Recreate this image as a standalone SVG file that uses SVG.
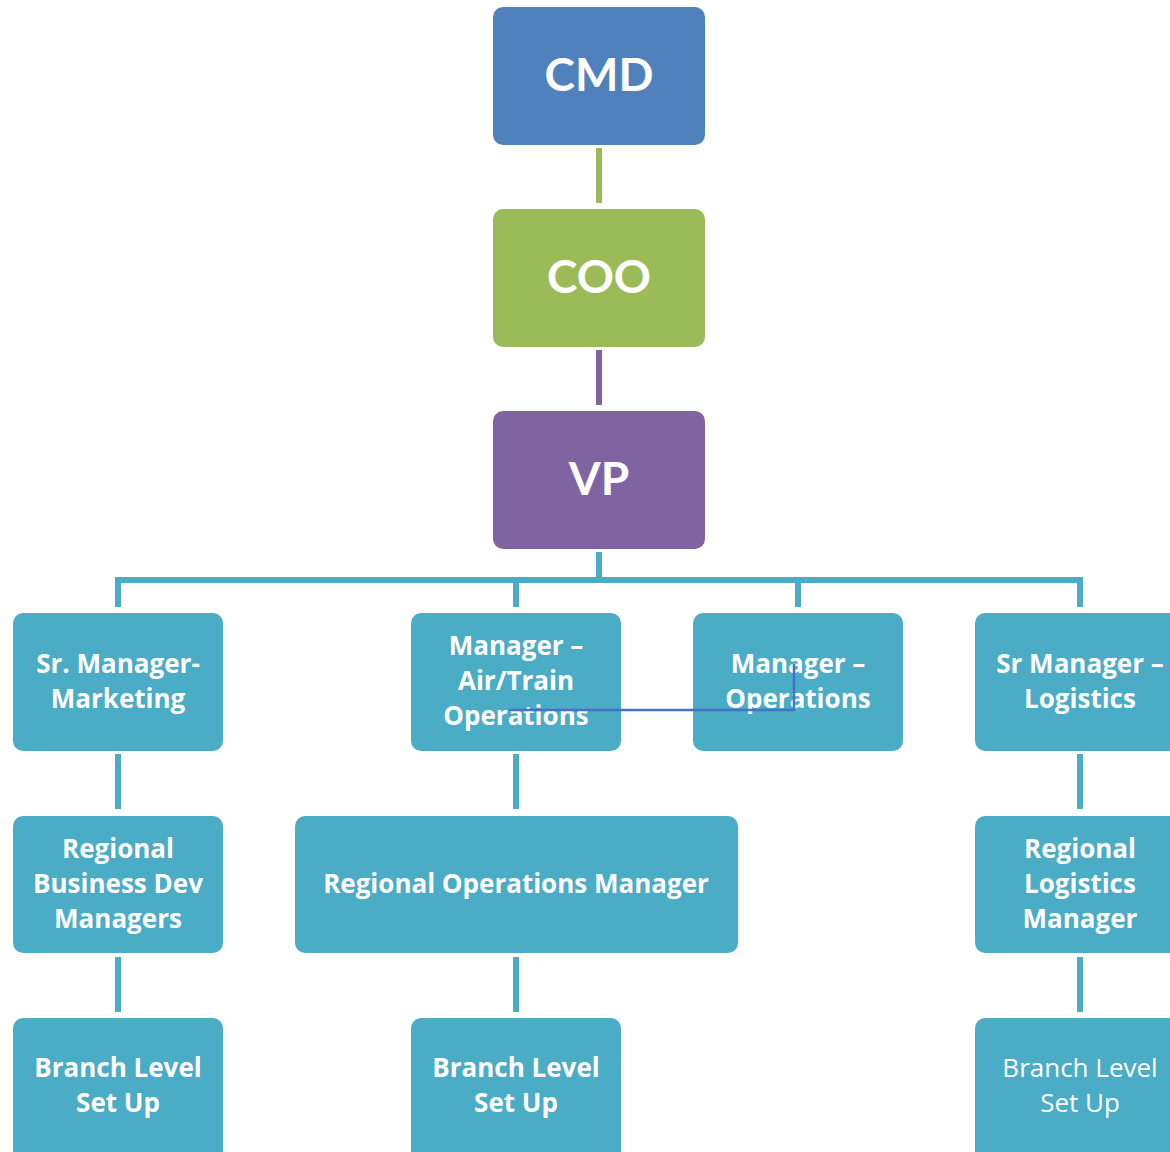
<svg xmlns="http://www.w3.org/2000/svg" width="1170" height="1152" viewBox="0 0 1170 1152">
<style>
.box{fill:#4BACC6;}
.t{font-family:"Open Sans",Lato,"Liberation Sans",sans-serif;font-weight:bold;fill:#fff;text-anchor:middle;font-size:26px;}
.big{font-family:Lato,"Open Sans",sans-serif;font-size:46px;}
.reg{font-weight:normal;}
.c{stroke:#4BACC6;stroke-width:6;fill:none;}
</style>
<rect width="1170" height="1152" fill="#fff"/>
<g id="connectors">
<line x1="599" y1="148" x2="599" y2="203" stroke="#9BBB59" stroke-width="6"/>
<line x1="599" y1="350" x2="599" y2="405" stroke="#8064A2" stroke-width="6"/>
<path class="c" d="M599 552V580M118 607V580H1080V607M516 580V607M798 580V607"/>
<path class="c" d="M118 754V809M516 754V809M1080 754V809M118 957V1012M516 957V1012M1080 957V1012"/>
</g>
<g id="cmd"><rect x="493" y="7" width="212" height="138" rx="10" fill="#4F81BD"/><text class="t big" x="599" y="91">CMD</text></g>
<g id="coo"><rect x="493" y="209" width="212" height="138" rx="10" fill="#9BBB59"/><text class="t big" x="599" y="293">COO</text></g>
<g id="vp"><rect x="493" y="411" width="212" height="138" rx="10" fill="#8064A2"/><text class="t big" x="599" y="495">VP</text></g>
<g id="srmkt"><rect class="box" x="13" y="613" width="210" height="138" rx="10"/><text class="t" x="118" y="673">Sr. Manager-</text><text class="t" x="118" y="708">Marketing</text></g>
<g id="airtrain"><rect class="box" x="411" y="613" width="210" height="138" rx="10"/><text class="t" x="516" y="655">Manager –</text><text class="t" x="516" y="690">Air/Train</text><text class="t" x="516" y="725">Operations</text></g>
<g id="mgrops"><rect class="box" x="693" y="613" width="210" height="138" rx="10"/><text class="t" x="798" y="673">Manager –</text><text class="t" x="798" y="708">Operations</text></g>
<g id="srlog"><rect class="box" x="975" y="613" width="210" height="138" rx="10"/><text class="t" x="1080" y="673">Sr Manager –</text><text class="t" x="1080" y="708">Logistics</text></g>
<g id="overlay"><path d="M509 710H794V664" stroke="#4472C4" stroke-width="2.5" fill="none"/></g>
<g id="rbdm"><rect class="box" x="13" y="816" width="210" height="137" rx="10"/><text class="t" x="118" y="858">Regional</text><text class="t" x="118" y="893">Business Dev</text><text class="t" x="118" y="928">Managers</text></g>
<g id="rom"><rect class="box" x="295" y="816" width="443" height="137" rx="10"/><text class="t" x="516" y="893">Regional Operations Manager</text></g>
<g id="rlm"><rect class="box" x="975" y="816" width="210" height="137" rx="10"/><text class="t" x="1080" y="858">Regional</text><text class="t" x="1080" y="893">Logistics</text><text class="t" x="1080" y="928">Manager</text></g>
<g id="bl1"><rect class="box" x="13" y="1018" width="210" height="150" rx="10"/><text class="t" x="118" y="1077">Branch Level</text><text class="t" x="118" y="1112">Set Up</text></g>
<g id="bl2"><rect class="box" x="411" y="1018" width="210" height="150" rx="10"/><text class="t" x="516" y="1077">Branch Level</text><text class="t" x="516" y="1112">Set Up</text></g>
<g id="bl3"><rect class="box" x="975" y="1018" width="210" height="150" rx="10"/><text class="t reg" x="1080" y="1077">Branch Level</text><text class="t reg" x="1080" y="1112">Set Up</text></g>
</svg>
